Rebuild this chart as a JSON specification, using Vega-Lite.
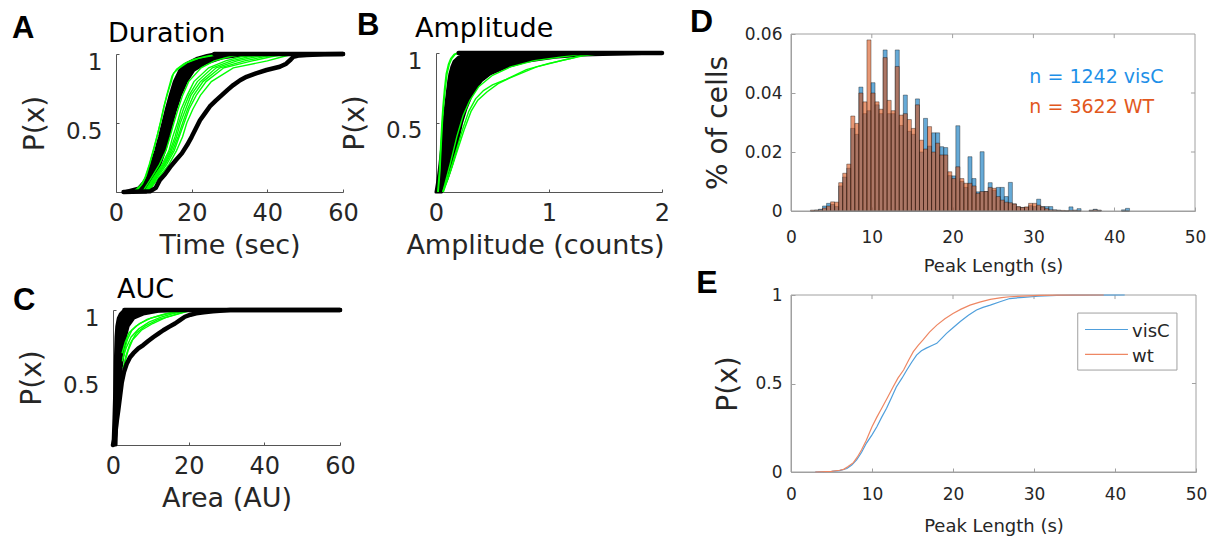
{
"$schema": "https://vega.github.io/schema/vega-lite/v6.json",
"width": 1217,
"height": 540,
"autosize": {"type": "none"},
"padding": 0,
"config": {
 "font": "DejaVu Sans",
 "view": {"stroke": null},
 "axis": {"grid": false, "labelColor": "#262626", "titleColor": "#262626", "domainColor": "#555555", "tickColor": "#555555", "titleFontWeight": "normal", "labelFlush": false}
},
"resolve": {"scale": {"x": "independent", "y": "independent"}, "axis": {"x": "independent", "y": "independent"}},
"datasets": {
 "A_band": [{"p":0,"xl":2,"xr":8},{"p":0.03,"xl":6,"xr":9},{"p":0.07,"xl":7.3,"xr":9.8},{"p":0.1,"xl":8,"xr":10.3},{"p":0.2,"xl":9.3,"xr":11.6},{"p":0.3,"xl":10.5,"xr":12.9},{"p":0.4,"xl":11.5,"xr":13.9},{"p":0.5,"xl":12.4,"xr":14.8},{"p":0.6,"xl":13.3,"xr":15.8},{"p":0.7,"xl":14.3,"xr":17},{"p":0.8,"xl":15.4,"xr":18.6},{"p":0.88,"xl":16.8,"xr":20.5},{"p":0.93,"xl":18.6,"xr":23.5},{"p":0.97,"xl":21.5,"xr":28},{"p":0.99,"xl":24,"xr":33},{"p":1,"xl":26,"xr":40}],
 "A_green": [
  {"s":"gL1","x":5,"p":0.01},{"s":"gL1","x":6.6,"p":0.05},{"s":"gL1","x":7.6,"p":0.1},{"s":"gL1","x":8.8,"p":0.2},{"s":"gL1","x":9.8,"p":0.3},{"s":"gL1","x":10.8,"p":0.4},{"s":"gL1","x":11.7,"p":0.5},{"s":"gL1","x":12.5,"p":0.6},{"s":"gL1","x":13.4,"p":0.7},{"s":"gL1","x":14.2,"p":0.78},{"s":"gL1","x":14.8,"p":0.84},{"s":"gL1","x":16,"p":0.89},{"s":"gL1","x":18,"p":0.93},{"s":"gL1","x":20.5,"p":0.96},{"s":"gL1","x":24,"p":0.985},{"s":"gL1","x":28,"p":1},
  {"s":"gL2","x":5.5,"p":0.01},{"s":"gL2","x":7,"p":0.06},{"s":"gL2","x":8,"p":0.12},{"s":"gL2","x":9.1,"p":0.22},{"s":"gL2","x":10.2,"p":0.33},{"s":"gL2","x":11.1,"p":0.43},{"s":"gL2","x":12,"p":0.53},{"s":"gL2","x":12.8,"p":0.63},{"s":"gL2","x":13.7,"p":0.72},{"s":"gL2","x":14.6,"p":0.8},{"s":"gL2","x":15.2,"p":0.86},{"s":"gL2","x":16.8,"p":0.9},{"s":"gL2","x":19,"p":0.94},{"s":"gL2","x":22,"p":0.97},{"s":"gL2","x":26,"p":0.99},{"s":"gL2","x":30,"p":1},
  {"s":"g1","x":7,"p":0},{"s":"g1","x":9.3,"p":0.1},{"s":"g1","x":11.5,"p":0.2},{"s":"g1","x":13.2,"p":0.3},{"s":"g1","x":14.3,"p":0.4},{"s":"g1","x":15.3,"p":0.5},{"s":"g1","x":16.4,"p":0.6},{"s":"g1","x":17.6,"p":0.7},{"s":"g1","x":19.2,"p":0.8},{"s":"g1","x":22.5,"p":0.9},{"s":"g1","x":26,"p":0.95},{"s":"g1","x":30,"p":0.98},{"s":"g1","x":34,"p":1},
  {"s":"g2","x":7.5,"p":0},{"s":"g2","x":9.8,"p":0.1},{"s":"g2","x":12.2,"p":0.2},{"s":"g2","x":14,"p":0.3},{"s":"g2","x":15,"p":0.4},{"s":"g2","x":16.2,"p":0.5},{"s":"g2","x":17.2,"p":0.6},{"s":"g2","x":18.8,"p":0.7},{"s":"g2","x":20.6,"p":0.8},{"s":"g2","x":24.5,"p":0.9},{"s":"g2","x":29,"p":0.95},{"s":"g2","x":33,"p":0.98},{"s":"g2","x":38,"p":1},
  {"s":"g3","x":8,"p":0},{"s":"g3","x":10.3,"p":0.1},{"s":"g3","x":12.8,"p":0.2},{"s":"g3","x":14.6,"p":0.3},{"s":"g3","x":16,"p":0.4},{"s":"g3","x":17,"p":0.5},{"s":"g3","x":18.4,"p":0.6},{"s":"g3","x":19.8,"p":0.7},{"s":"g3","x":22.3,"p":0.8},{"s":"g3","x":26.5,"p":0.9},{"s":"g3","x":32,"p":0.95},{"s":"g3","x":37,"p":0.98},{"s":"g3","x":42,"p":1},
  {"s":"g4","x":8.2,"p":0},{"s":"g4","x":10.8,"p":0.1},{"s":"g4","x":13.4,"p":0.2},{"s":"g4","x":15.4,"p":0.3},{"s":"g4","x":16.7,"p":0.4},{"s":"g4","x":18,"p":0.5},{"s":"g4","x":19.3,"p":0.6},{"s":"g4","x":21.2,"p":0.7},{"s":"g4","x":23.8,"p":0.8},{"s":"g4","x":28.5,"p":0.9},{"s":"g4","x":36,"p":0.95},{"s":"g4","x":41,"p":0.98},{"s":"g4","x":45,"p":1},
  {"s":"g5","x":8.5,"p":0},{"s":"g5","x":11.2,"p":0.1},{"s":"g5","x":14,"p":0.2},{"s":"g5","x":16,"p":0.3},{"s":"g5","x":17.6,"p":0.4},{"s":"g5","x":18.7,"p":0.5},{"s":"g5","x":20.3,"p":0.6},{"s":"g5","x":22.3,"p":0.7},{"s":"g5","x":25.2,"p":0.8},{"s":"g5","x":31,"p":0.9},{"s":"g5","x":40,"p":0.95},{"s":"g5","x":44,"p":0.98},{"s":"g5","x":47,"p":1},
  {"s":"g6","x":8.3,"p":0},{"s":"g6","x":10.5,"p":0.1},{"s":"g6","x":13,"p":0.2},{"s":"g6","x":15,"p":0.3},{"s":"g6","x":16.4,"p":0.4},{"s":"g6","x":17.6,"p":0.5},{"s":"g6","x":18.9,"p":0.6},{"s":"g6","x":20.5,"p":0.7},{"s":"g6","x":23,"p":0.8},{"s":"g6","x":27.5,"p":0.9},{"s":"g6","x":34,"p":0.95},{"s":"g6","x":39,"p":0.98},{"s":"g6","x":44,"p":1},
  {"s":"g7","x":7.8,"p":0},{"s":"g7","x":10,"p":0.1},{"s":"g7","x":12.5,"p":0.2},{"s":"g7","x":14.3,"p":0.3},{"s":"g7","x":15.6,"p":0.4},{"s":"g7","x":16.6,"p":0.5},{"s":"g7","x":17.8,"p":0.6},{"s":"g7","x":19.3,"p":0.7},{"s":"g7","x":21.5,"p":0.8},{"s":"g7","x":25.5,"p":0.9},{"s":"g7","x":30.5,"p":0.95},{"s":"g7","x":35,"p":0.98},{"s":"g7","x":40,"p":1}
 ],
 "A_black": [
  {"s":"outer","x":2,"p":0},{"s":"outer","x":9,"p":0.005},{"s":"outer","x":10.5,"p":0.03},{"s":"outer","x":11.6,"p":0.087},{"s":"outer","x":13,"p":0.13},{"s":"outer","x":14.3,"p":0.18},{"s":"outer","x":15.8,"p":0.23},{"s":"outer","x":17.4,"p":0.28},{"s":"outer","x":18.8,"p":0.34},{"s":"outer","x":20,"p":0.4},{"s":"outer","x":21.1,"p":0.46},{"s":"outer","x":22.2,"p":0.52},{"s":"outer","x":23.5,"p":0.57},{"s":"outer","x":24.8,"p":0.62},{"s":"outer","x":26.3,"p":0.66},{"s":"outer","x":27.9,"p":0.7},{"s":"outer","x":29.5,"p":0.74},{"s":"outer","x":31,"p":0.775},{"s":"outer","x":32.8,"p":0.81},{"s":"outer","x":34.5,"p":0.835},{"s":"outer","x":37,"p":0.86},{"s":"outer","x":39.8,"p":0.884},{"s":"outer","x":43.3,"p":0.908},{"s":"outer","x":45,"p":0.93},{"s":"outer","x":46.2,"p":0.96},{"s":"outer","x":46.9,"p":0.98},{"s":"outer","x":48.5,"p":0.99},{"s":"outer","x":50.4,"p":0.993},{"s":"outer","x":55,"p":0.998},{"s":"outer","x":60,"p":1},
  {"s":"top","x":26,"p":1},{"s":"top","x":60,"p":1}
 ],
 "B_band": [{"p":0,"xl":0,"xr":0.05},{"p":0.1,"xl":0.02,"xr":0.1},{"p":0.2,"xl":0.035,"xr":0.14},{"p":0.3,"xl":0.048,"xr":0.175},{"p":0.4,"xl":0.06,"xr":0.2},{"p":0.5,"xl":0.07,"xr":0.227},{"p":0.6,"xl":0.083,"xr":0.265},{"p":0.7,"xl":0.098,"xr":0.315},{"p":0.8,"xl":0.113,"xr":0.4},{"p":0.85,"xl":0.123,"xr":0.48},{"p":0.9,"xl":0.14,"xr":0.625},{"p":0.94,"xl":0.16,"xr":0.8},{"p":0.97,"xl":0.2,"xr":1.05},{"p":0.985,"xl":0.25,"xr":1.3},{"p":1,"xl":0.3,"xr":2}],
 "B_green": [
  {"s":"gBL1","x":0.015,"p":0},{"s":"gBL1","x":0.03,"p":0.15},{"s":"gBL1","x":0.042,"p":0.35},{"s":"gBL1","x":0.052,"p":0.5},{"s":"gBL1","x":0.062,"p":0.62},{"s":"gBL1","x":0.075,"p":0.74},{"s":"gBL1","x":0.09,"p":0.85},{"s":"gBL1","x":0.11,"p":0.92},{"s":"gBL1","x":0.13,"p":0.96},{"s":"gBL1","x":0.16,"p":0.99},{"s":"gBL1","x":0.19,"p":1},
  {"s":"gBL2","x":0.02,"p":0},{"s":"gBL2","x":0.035,"p":0.15},{"s":"gBL2","x":0.047,"p":0.35},{"s":"gBL2","x":0.057,"p":0.5},{"s":"gBL2","x":0.068,"p":0.62},{"s":"gBL2","x":0.082,"p":0.74},{"s":"gBL2","x":0.098,"p":0.85},{"s":"gBL2","x":0.118,"p":0.92},{"s":"gBL2","x":0.14,"p":0.96},{"s":"gBL2","x":0.17,"p":0.99},{"s":"gBL2","x":0.21,"p":1},
  {"s":"gBR1","x":0.06,"p":0},{"s":"gBR1","x":0.12,"p":0.14},{"s":"gBR1","x":0.18,"p":0.3},{"s":"gBR1","x":0.235,"p":0.45},{"s":"gBR1","x":0.29,"p":0.58},{"s":"gBR1","x":0.35,"p":0.67},{"s":"gBR1","x":0.42,"p":0.73},{"s":"gBR1","x":0.5,"p":0.77},{"s":"gBR1","x":0.62,"p":0.81},{"s":"gBR1","x":0.8,"p":0.88},{"s":"gBR1","x":1,"p":0.925},{"s":"gBR1","x":1.19,"p":0.96},{"s":"gBR1","x":1.3,"p":0.985},{"s":"gBR1","x":1.45,"p":1},
  {"s":"gBR2","x":0.065,"p":0},{"s":"gBR2","x":0.13,"p":0.15},{"s":"gBR2","x":0.19,"p":0.3},{"s":"gBR2","x":0.25,"p":0.45},{"s":"gBR2","x":0.31,"p":0.58},{"s":"gBR2","x":0.37,"p":0.66},{"s":"gBR2","x":0.45,"p":0.72},{"s":"gBR2","x":0.55,"p":0.78},{"s":"gBR2","x":0.65,"p":0.82},{"s":"gBR2","x":0.89,"p":0.9},{"s":"gBR2","x":1.13,"p":0.95},{"s":"gBR2","x":1.3,"p":0.98},{"s":"gBR2","x":1.5,"p":1},
  {"s":"gBR3","x":0.06,"p":0},{"s":"gBR3","x":0.125,"p":0.2},{"s":"gBR3","x":0.185,"p":0.4},{"s":"gBR3","x":0.24,"p":0.55},{"s":"gBR3","x":0.3,"p":0.66},{"s":"gBR3","x":0.38,"p":0.76},{"s":"gBR3","x":0.5,"p":0.84},{"s":"gBR3","x":0.66,"p":0.9},{"s":"gBR3","x":0.87,"p":0.945},{"s":"gBR3","x":1.1,"p":0.97},{"s":"gBR3","x":1.3,"p":0.99},{"s":"gBR3","x":1.4,"p":1}
 ],
 "B_black": [{"s":"top","x":0.2,"p":1},{"s":"top","x":2,"p":1}],
 "C_band": [{"p":0,"xl":0,"xr":0.8},{"p":0.2,"xl":0.25,"xr":1},{"p":0.4,"xl":0.45,"xr":1.6},{"p":0.6,"xl":0.6,"xr":2.3},{"p":0.7,"xl":0.7,"xr":2.8},{"p":0.8,"xl":0.8,"xr":3.3},{"p":0.88,"xl":1,"xr":4},{"p":0.94,"xl":1.4,"xr":5.5},{"p":0.97,"xl":1.9,"xr":8},{"p":0.99,"xl":2.6,"xr":12},{"p":1,"xl":3.5,"xr":20}],
 "C_green": [
  {"s":"c1","x":2.5,"p":0.62},{"s":"c1","x":3,"p":0.7},{"s":"c1","x":3.8,"p":0.78},{"s":"c1","x":5,"p":0.85},{"s":"c1","x":7,"p":0.9},{"s":"c1","x":10,"p":0.94},{"s":"c1","x":14,"p":0.97},{"s":"c1","x":18,"p":0.99},{"s":"c1","x":20,"p":1},
  {"s":"c2","x":2.7,"p":0.57},{"s":"c2","x":3.4,"p":0.66},{"s":"c2","x":4.5,"p":0.75},{"s":"c2","x":6.2,"p":0.83},{"s":"c2","x":8.5,"p":0.88},{"s":"c2","x":12,"p":0.93},{"s":"c2","x":16,"p":0.96},{"s":"c2","x":19,"p":0.985},{"s":"c2","x":21,"p":1},
  {"s":"c3","x":3,"p":0.6},{"s":"c3","x":4,"p":0.7},{"s":"c3","x":5.2,"p":0.78},{"s":"c3","x":7.5,"p":0.85},{"s":"c3","x":10.5,"p":0.9},{"s":"c3","x":14,"p":0.945},{"s":"c3","x":17.5,"p":0.975},{"s":"c3","x":19.5,"p":0.99},{"s":"c3","x":22,"p":1},
  {"s":"c4","x":2.4,"p":0.68},{"s":"c4","x":3.2,"p":0.76},{"s":"c4","x":4.2,"p":0.83},{"s":"c4","x":6,"p":0.88},{"s":"c4","x":9,"p":0.93},{"s":"c4","x":13,"p":0.965},{"s":"c4","x":16,"p":0.985},{"s":"c4","x":18,"p":1},
  {"s":"c5","x":2.6,"p":0.64},{"s":"c5","x":3.5,"p":0.72},{"s":"c5","x":4.8,"p":0.8},{"s":"c5","x":6.8,"p":0.86},{"s":"c5","x":9.5,"p":0.91},{"s":"c5","x":12.5,"p":0.945},{"s":"c5","x":15.5,"p":0.97},{"s":"c5","x":18.5,"p":0.99},{"s":"c5","x":20.5,"p":1}
 ],
 "C_black": [
  {"s":"outer","x":0,"p":0},{"s":"outer","x":0.5,"p":0.06},{"s":"outer","x":1,"p":0.18},{"s":"outer","x":1.4,"p":0.26},{"s":"outer","x":1.9,"p":0.37},{"s":"outer","x":2.3,"p":0.46},{"s":"outer","x":2.9,"p":0.54},{"s":"outer","x":3.6,"p":0.6},{"s":"outer","x":4.5,"p":0.65},{"s":"outer","x":5.4,"p":0.68},{"s":"outer","x":6.7,"p":0.715},{"s":"outer","x":8,"p":0.74},{"s":"outer","x":9.3,"p":0.77},{"s":"outer","x":10.7,"p":0.8},{"s":"outer","x":12,"p":0.825},{"s":"outer","x":13.3,"p":0.85},{"s":"outer","x":14.8,"p":0.875},{"s":"outer","x":16.4,"p":0.9},{"s":"outer","x":17.7,"p":0.925},{"s":"outer","x":19,"p":0.95},{"s":"outer","x":20.5,"p":0.965},{"s":"outer","x":22,"p":0.975},{"s":"outer","x":24,"p":0.983},{"s":"outer","x":26.4,"p":0.99},{"s":"outer","x":31,"p":1},{"s":"outer","x":60,"p":1},
  {"s":"top","x":3,"p":1},{"s":"top","x":60,"p":1}
 ],
 "D_hist": [
  {"b0":2.4,"b1":2.9,"visC":0,"wt":0.0003},{"b0":2.9,"b1":3.4,"visC":0.0003,"wt":0.0003},{"b0":3.4,"b1":3.9,"visC":0.0006,"wt":0.0004},{"b0":3.9,"b1":4.4,"visC":0.0017,"wt":0.001},{"b0":4.4,"b1":4.9,"visC":0.0026,"wt":0.0017},{"b0":4.9,"b1":5.4,"visC":0.0022,"wt":0.0031},{"b0":5.4,"b1":5.9,"visC":0.0015,"wt":0.003},{"b0":5.9,"b1":6.4,"visC":0.0085,"wt":0.0096},{"b0":6.4,"b1":6.9,"visC":0.0115,"wt":0.0128},{"b0":6.9,"b1":7.4,"visC":0.0145,"wt":0.0159},
  {"b0":7.4,"b1":7.9,"visC":0.028,"wt":0.0322},{"b0":7.9,"b1":8.4,"visC":0.026,"wt":0.0297},{"b0":8.4,"b1":8.9,"visC":0.042,"wt":0.04},{"b0":8.9,"b1":9.4,"visC":0.033,"wt":0.037},{"b0":9.4,"b1":9.9,"visC":0.034,"wt":0.058},{"b0":9.9,"b1":10.4,"visC":0.0435,"wt":0.04},{"b0":10.4,"b1":10.9,"visC":0.036,"wt":0.037},{"b0":10.9,"b1":11.4,"visC":0.033,"wt":0.0345},{"b0":11.4,"b1":11.9,"visC":0.0546,"wt":0.052},{"b0":11.9,"b1":12.4,"visC":0.033,"wt":0.0375},
  {"b0":12.4,"b1":12.9,"visC":0.033,"wt":0.034},{"b0":12.9,"b1":13.4,"visC":0.0546,"wt":0.049},{"b0":13.4,"b1":13.9,"visC":0.029,"wt":0.0325},{"b0":13.9,"b1":14.4,"visC":0.0393,"wt":0.033},{"b0":14.4,"b1":14.9,"visC":0.027,"wt":0.031},{"b0":14.9,"b1":15.4,"visC":0.026,"wt":0.028},{"b0":15.4,"b1":15.9,"visC":0.038,"wt":0.036},{"b0":15.9,"b1":16.4,"visC":0.02,"wt":0.024},{"b0":16.4,"b1":16.9,"visC":0.0314,"wt":0.021},{"b0":16.9,"b1":17.4,"visC":0.022,"wt":0.0286},
  {"b0":17.4,"b1":17.9,"visC":0.0265,"wt":0.02},{"b0":17.9,"b1":18.4,"visC":0.0265,"wt":0.023},{"b0":18.4,"b1":18.9,"visC":0.0218,"wt":0.019},{"b0":18.9,"b1":19.4,"visC":0.0215,"wt":0.019},{"b0":19.4,"b1":19.9,"visC":0.012,"wt":0.0133},{"b0":19.9,"b1":20.4,"visC":0.0119,"wt":0.011},{"b0":20.4,"b1":20.9,"visC":0.0289,"wt":0.015},{"b0":20.9,"b1":21.4,"visC":0.01,"wt":0.011},{"b0":21.4,"b1":21.9,"visC":0.008,"wt":0.0094},{"b0":21.9,"b1":22.4,"visC":0.0184,"wt":0.0094},
  {"b0":22.4,"b1":22.9,"visC":0.011,"wt":0.0085},{"b0":22.9,"b1":23.4,"visC":0.0065,"wt":0.006},{"b0":23.4,"b1":23.9,"visC":0.0201,"wt":0.0066},{"b0":23.9,"b1":24.4,"visC":0.0066,"wt":0.0066},{"b0":24.4,"b1":24.9,"visC":0.0096,"wt":0.008},{"b0":24.9,"b1":25.4,"visC":0.007,"wt":0.0077},{"b0":25.4,"b1":25.9,"visC":0.008,"wt":0.0049},{"b0":25.9,"b1":26.4,"visC":0.008,"wt":0.0037},{"b0":26.4,"b1":26.9,"visC":0.0049,"wt":0.003},{"b0":26.9,"b1":27.4,"visC":0.0097,"wt":0.0028},
  {"b0":27.4,"b1":27.9,"visC":0.0024,"wt":0.0024},{"b0":27.9,"b1":28.4,"visC":0.0014,"wt":0.0015},{"b0":28.4,"b1":28.9,"visC":0.0012,"wt":0.0012},{"b0":28.9,"b1":29.4,"visC":0.0012,"wt":0.0014},{"b0":29.4,"b1":29.9,"visC":0.0018,"wt":0.0026},{"b0":29.9,"b1":30.4,"visC":0.0015,"wt":0.0026},{"b0":30.4,"b1":30.9,"visC":0.004,"wt":0.002},{"b0":30.9,"b1":31.4,"visC":0.0015,"wt":0.0014},{"b0":31.4,"b1":31.9,"visC":0.0015,"wt":0.0008},{"b0":31.9,"b1":32.4,"visC":0.0015,"wt":0.0004},
  {"b0":32.4,"b1":32.9,"visC":0.0004,"wt":0.0003},{"b0":32.9,"b1":33.4,"visC":0.0003,"wt":0.0002},{"b0":33.4,"b1":33.9,"visC":0,"wt":0.0002},{"b0":33.9,"b1":34.4,"visC":0,"wt":0.0001},{"b0":34.4,"b1":34.9,"visC":0.0014,"wt":0.0002},{"b0":34.9,"b1":35.4,"visC":0.0003,"wt":0.0002},{"b0":35.4,"b1":35.9,"visC":0.0008,"wt":0.0001},{"b0":36.9,"b1":37.4,"visC":0.0003,"wt":0.0002},{"b0":37.4,"b1":37.9,"visC":0.0006,"wt":0.0004},{"b0":37.9,"b1":38.4,"visC":0.0003,"wt":0.0002},
  {"b0":40.9,"b1":41.4,"visC":0.0004,"wt":0},{"b0":41.4,"b1":41.9,"visC":0.0009,"wt":0}
 ],
 "E_cdf": [
  {"g":"visC","x":3,"p":0},{"g":"visC","x":5,"p":0.003},{"g":"visC","x":6,"p":0.008},{"g":"visC","x":6.9,"p":0.02},{"g":"visC","x":7.5,"p":0.04},{"g":"visC","x":8.1,"p":0.068},{"g":"visC","x":8.7,"p":0.11},{"g":"visC","x":9.3,"p":0.162},{"g":"visC","x":10,"p":0.21},{"g":"visC","x":10.6,"p":0.256},{"g":"visC","x":11.2,"p":0.31},{"g":"visC","x":11.8,"p":0.36},{"g":"visC","x":12.4,"p":0.42},{"g":"visC","x":13,"p":0.48},{"g":"visC","x":13.7,"p":0.53},{"g":"visC","x":14.3,"p":0.576},{"g":"visC","x":14.9,"p":0.62},{"g":"visC","x":15.5,"p":0.66},{"g":"visC","x":16.1,"p":0.685},{"g":"visC","x":16.7,"p":0.7},{"g":"visC","x":17.4,"p":0.715},{"g":"visC","x":18,"p":0.727},{"g":"visC","x":18.6,"p":0.755},{"g":"visC","x":19.2,"p":0.783},{"g":"visC","x":20,"p":0.815},{"g":"visC","x":20.9,"p":0.85},{"g":"visC","x":21.9,"p":0.885},{"g":"visC","x":22.9,"p":0.915},{"g":"visC","x":23.7,"p":0.93},{"g":"visC","x":24.6,"p":0.943},{"g":"visC","x":25.8,"p":0.962},{"g":"visC","x":27,"p":0.98},{"g":"visC","x":28.7,"p":0.987},{"g":"visC","x":30.5,"p":0.993},{"g":"visC","x":32.8,"p":0.998},{"g":"visC","x":35,"p":0.999},{"g":"visC","x":41.2,"p":1},
  {"g":"wt","x":3,"p":0},{"g":"wt","x":5,"p":0.004},{"g":"wt","x":6,"p":0.01},{"g":"wt","x":6.5,"p":0.015},{"g":"wt","x":7,"p":0.03},{"g":"wt","x":7.7,"p":0.053},{"g":"wt","x":8.2,"p":0.085},{"g":"wt","x":8.7,"p":0.124},{"g":"wt","x":9.3,"p":0.18},{"g":"wt","x":10,"p":0.256},{"g":"wt","x":10.6,"p":0.31},{"g":"wt","x":11.2,"p":0.36},{"g":"wt","x":11.9,"p":0.42},{"g":"wt","x":12.6,"p":0.48},{"g":"wt","x":13.2,"p":0.53},{"g":"wt","x":13.9,"p":0.576},{"g":"wt","x":14.5,"p":0.63},{"g":"wt","x":15.1,"p":0.68},{"g":"wt","x":15.7,"p":0.715},{"g":"wt","x":16.3,"p":0.746},{"g":"wt","x":17.1,"p":0.79},{"g":"wt","x":18,"p":0.83},{"g":"wt","x":19,"p":0.866},{"g":"wt","x":20,"p":0.896},{"g":"wt","x":21,"p":0.92},{"g":"wt","x":22.1,"p":0.943},{"g":"wt","x":23.3,"p":0.96},{"g":"wt","x":24.6,"p":0.975},{"g":"wt","x":26,"p":0.985},{"g":"wt","x":27,"p":0.99},{"g":"wt","x":28.5,"p":0.994},{"g":"wt","x":30.7,"p":0.998},{"g":"wt","x":33,"p":0.999},{"g":"wt","x":38.6,"p":1}
 ],
 "DE_xticks": [{"t":10},{"t":20},{"t":30},{"t":40}],
 "D_yticks": [{"t":0.02},{"t":0.04}],
 "E_yticks": [{"t":0.5}],
 "E_leg": [{"g":"visC","ly":0.805,"ty":0.79},{"g":"wt","ly":0.665,"ty":0.65}]
},
"layer": [
 {"layer": [
   {"data": {"name": "A_band"}, "mark": {"type": "area", "orient": "horizontal", "color": "black", "stroke": "black", "strokeWidth": 3, "strokeJoin": "round"},
    "encoding": {
     "y": {"field": "p", "type": "quantitative", "scale": {"domain": [0, 1], "range": [192, 54], "nice": false, "zero": false}, "axis": {"orient": "left", "offset": -116, "title": "P(x)", "values": [0.5, 1], "format": "~g", "labelFontSize": 23, "titleFontSize": 28, "tickSize": -3, "labelPadding": 17, "labelOffset": 8, "titlePadding": 16}},
     "x": {"field": "xl", "type": "quantitative", "scale": {"domain": [0, 60], "range": [116, 343], "nice": false, "zero": false}, "axis": {"orient": "bottom", "offset": -348, "title": "Time (sec)", "values": [0, 20, 40, 60], "labelFontSize": 24, "titleFontSize": 27, "tickSize": -3, "labelPadding": 12, "titlePadding": 7}},
     "x2": {"field": "xr"}}},
   {"data": {"name": "A_green"}, "mark": {"type": "line", "color": "#00ff00", "strokeWidth": 1.4},
    "encoding": {"x": {"field": "x", "type": "quantitative"}, "y": {"field": "p", "type": "quantitative"}, "detail": {"field": "s"}}},
   {"data": {"name": "A_black"}, "mark": {"type": "line", "color": "black", "strokeWidth": 4.5, "strokeJoin": "round", "strokeCap": "round"},
    "encoding": {"x": {"field": "x", "type": "quantitative"}, "y": {"field": "p", "type": "quantitative"}, "detail": {"field": "s"}}},
   {"data": {"values": [{}]}, "mark": {"type": "text", "font": "Liberation Sans", "fontWeight": "bold", "fontSize": 31, "align": "left", "baseline": "alphabetic", "color": "black"},
    "encoding": {"x": {"datum": -27.5}, "y": {"datum": 1.116}, "text": {"value": "A"}}},
   {"data": {"values": [{}]}, "mark": {"type": "text", "fontSize": 27, "align": "left", "baseline": "alphabetic", "color": "black"},
    "encoding": {"x": {"datum": -2.1}, "y": {"datum": 1.087}, "text": {"value": "Duration"}}}
 ]},
 {"layer": [
   {"data": {"name": "B_band"}, "mark": {"type": "area", "orient": "horizontal", "color": "black", "stroke": "black", "strokeWidth": 3, "strokeJoin": "round"},
    "encoding": {
     "y": {"field": "p", "type": "quantitative", "scale": {"domain": [0, 1], "range": [192, 53], "nice": false, "zero": false}, "axis": {"orient": "left", "offset": -436, "title": "P(x)", "values": [0.5, 1], "format": "~g", "labelFontSize": 23, "titleFontSize": 28, "tickSize": -3, "labelPadding": 17, "labelOffset": 8, "titlePadding": 16}},
     "x": {"field": "xl", "type": "quantitative", "scale": {"domain": [0, 2], "range": [436, 662], "nice": false, "zero": false}, "axis": {"orient": "bottom", "offset": -348, "title": "Amplitude (counts)", "values": [0, 1, 2], "format": "~g", "labelFontSize": 24, "titleFontSize": 27, "tickSize": -3, "labelPadding": 12, "titlePadding": 7, "titleX": 535}},
     "x2": {"field": "xr"}}},
   {"data": {"name": "B_green"}, "mark": {"type": "line", "color": "#00ff00", "strokeWidth": 1.4},
    "encoding": {"x": {"field": "x", "type": "quantitative"}, "y": {"field": "p", "type": "quantitative"}, "detail": {"field": "s"}}},
   {"data": {"name": "B_black"}, "mark": {"type": "line", "color": "black", "strokeWidth": 4.5, "strokeCap": "round"},
    "encoding": {"x": {"field": "x", "type": "quantitative"}, "y": {"field": "p", "type": "quantitative"}, "detail": {"field": "s"}}},
   {"data": {"values": [{}]}, "mark": {"type": "text", "font": "Liberation Sans", "fontWeight": "bold", "fontSize": 31, "align": "left", "baseline": "alphabetic", "color": "black"},
    "encoding": {"x": {"datum": -0.699}, "y": {"datum": 1.129}, "text": {"value": "B"}}},
   {"data": {"values": [{}]}, "mark": {"type": "text", "fontSize": 27, "align": "left", "baseline": "alphabetic", "color": "black"},
    "encoding": {"x": {"datum": -0.186}, "y": {"datum": 1.115}, "text": {"value": "Amplitude"}}}
 ]},
 {"layer": [
   {"data": {"name": "C_band"}, "mark": {"type": "area", "orient": "horizontal", "color": "black", "stroke": "black", "strokeWidth": 3, "strokeJoin": "round"},
    "encoding": {
     "y": {"field": "p", "type": "quantitative", "scale": {"domain": [0, 1], "range": [445, 310], "nice": false, "zero": false}, "axis": {"orient": "left", "offset": -113, "title": "P(x)", "values": [0.5, 1], "format": "~g", "labelFontSize": 23, "titleFontSize": 28, "tickSize": -3, "labelPadding": 17, "labelOffset": 8, "titlePadding": 16}},
     "x": {"field": "xl", "type": "quantitative", "scale": {"domain": [0, 60], "range": [113, 340], "nice": false, "zero": false}, "axis": {"orient": "bottom", "offset": -95, "title": "Area (AU)", "values": [0, 20, 40, 60], "labelFontSize": 24, "titleFontSize": 27, "tickSize": -3, "labelPadding": 12, "titlePadding": 7}},
     "x2": {"field": "xr"}}},
   {"data": {"name": "C_green"}, "mark": {"type": "line", "color": "#00ff00", "strokeWidth": 1.4},
    "encoding": {"x": {"field": "x", "type": "quantitative"}, "y": {"field": "p", "type": "quantitative"}, "detail": {"field": "s"}}},
   {"data": {"name": "C_black"}, "mark": {"type": "line", "color": "black", "strokeWidth": 4.5, "strokeJoin": "round", "strokeCap": "round"},
    "encoding": {"x": {"field": "x", "type": "quantitative"}, "y": {"field": "p", "type": "quantitative"}, "detail": {"field": "s"}}},
   {"data": {"values": [{}]}, "mark": {"type": "text", "font": "Liberation Sans", "fontWeight": "bold", "fontSize": 31, "align": "left", "baseline": "alphabetic", "color": "black"},
    "encoding": {"x": {"datum": -26.4}, "y": {"datum": 1.0}, "text": {"value": "C"}}},
   {"data": {"values": [{}]}, "mark": {"type": "text", "fontSize": 27, "align": "left", "baseline": "alphabetic", "color": "black"},
    "encoding": {"x": {"datum": 1.06}, "y": {"datum": 1.089}, "text": {"value": "AUC"}}}
 ]},
 {"layer": [
   {"data": {"name": "D_hist"}, "mark": {"type": "rect", "fill": "#0072BD", "fillOpacity": 0.6, "stroke": "#000000", "strokeWidth": 0.6, "strokeOpacity": 0.6},
    "encoding": {
     "x": {"field": "b0", "type": "quantitative", "scale": {"domain": [0, 50], "range": [791, 1195], "nice": false, "zero": false}, "axis": {"orient": "bottom", "offset": -329, "title": "Peak Length (s)", "values": [0, 10, 20, 30, 40, 50], "labelFontSize": 17, "titleFontSize": 18, "tickSize": -4, "labelPadding": 22, "titlePadding": 12, "domainColor": "#a0a0a0", "tickColor": "#a0a0a0"}},
     "x2": {"field": "b1"},
     "y": {"field": "visC", "type": "quantitative", "scale": {"domain": [0, 0.06], "range": [211, 34], "nice": false, "zero": false}, "axis": {"orient": "left", "offset": -791, "title": "% of cells", "values": [0, 0.02, 0.04, 0.06], "format": "~g", "labelFontSize": 17, "titleFontSize": 28, "tickSize": -4, "labelPadding": 13, "titlePadding": 12, "domainColor": "#a0a0a0", "tickColor": "#a0a0a0"}},
     "y2": {"datum": 0}}},
   {"data": {"name": "D_hist"}, "mark": {"type": "rect", "fill": "#D95319", "fillOpacity": 0.6, "stroke": "#000000", "strokeWidth": 0.6, "strokeOpacity": 0.6},
    "encoding": {"x": {"field": "b0", "type": "quantitative"}, "x2": {"field": "b1"}, "y": {"field": "wt", "type": "quantitative"}, "y2": {"datum": 0}}},
   {"data": {"values": [{}]}, "mark": {"type": "rect", "fillOpacity": 0, "stroke": "#a0a0a0", "strokeWidth": 1},
    "encoding": {"x": {"datum": 0}, "x2": {"datum": 50}, "y": {"datum": 0}, "y2": {"datum": 0.06}}},
   {"data": {"name": "DE_xticks"}, "mark": {"type": "rule", "color": "#a0a0a0"},
    "encoding": {"x": {"field": "t", "type": "quantitative"}, "y": {"datum": 0.06}, "y2": {"datum": 0.0586}}},
   {"data": {"name": "D_yticks"}, "mark": {"type": "rule", "color": "#a0a0a0"},
    "encoding": {"y": {"field": "t", "type": "quantitative"}, "x": {"datum": 50}, "x2": {"datum": 49.5}}},
   {"data": {"values": [{}]}, "mark": {"type": "text", "fontSize": 19, "align": "left", "baseline": "alphabetic", "color": "#1E90E8"},
    "encoding": {"x": {"datum": 29.5}, "y": {"datum": 0.0434}, "text": {"value": "n = 1242 visC"}}},
   {"data": {"values": [{}]}, "mark": {"type": "text", "fontSize": 19, "align": "left", "baseline": "alphabetic", "color": "#E2581D"},
    "encoding": {"x": {"datum": 29.5}, "y": {"datum": 0.0332}, "text": {"value": "n = 3622 WT"}}},
   {"data": {"values": [{}]}, "mark": {"type": "text", "font": "Liberation Sans", "fontWeight": "bold", "fontSize": 32, "align": "left", "baseline": "alphabetic", "color": "black"},
    "encoding": {"x": {"datum": -12.5}, "y": {"datum": 0.0607}, "text": {"value": "D"}}}
 ]},
 {"layer": [
   {"data": {"values": [{}]}, "mark": {"type": "rect", "fillOpacity": 0, "stroke": "#a0a0a0", "strokeWidth": 1},
    "encoding": {
     "x": {"datum": 0, "type": "quantitative", "scale": {"domain": [0, 50], "range": [791, 1196], "nice": false, "zero": false}, "axis": {"orient": "bottom", "offset": -68, "title": "Peak Length (s)", "values": [0, 10, 20, 30, 40, 50], "labelFontSize": 17, "titleFontSize": 18, "tickSize": -4, "labelPadding": 18, "titlePadding": 15, "domainColor": "#a0a0a0", "tickColor": "#a0a0a0"}},
     "x2": {"datum": 50},
     "y": {"datum": 0, "type": "quantitative", "scale": {"domain": [0, 1], "range": [472, 295], "nice": false, "zero": false}, "axis": {"orient": "left", "offset": -791, "title": "P(x)", "values": [0, 0.5, 1], "format": "~g", "labelFontSize": 17, "titleFontSize": 28, "tickSize": -4, "labelPadding": 13, "titlePadding": 12, "domainColor": "#a0a0a0", "tickColor": "#a0a0a0"}},
     "y2": {"datum": 1}}},
   {"data": {"name": "DE_xticks"}, "mark": {"type": "rule", "color": "#a0a0a0"},
    "encoding": {"x": {"field": "t", "type": "quantitative"}, "y": {"datum": 1}, "y2": {"datum": 0.977}}},
   {"data": {"name": "E_yticks"}, "mark": {"type": "rule", "color": "#a0a0a0"},
    "encoding": {"y": {"field": "t", "type": "quantitative"}, "x": {"datum": 50}, "x2": {"datum": 49.5}}},
   {"data": {"name": "E_cdf"}, "mark": {"type": "line", "strokeWidth": 1.2},
    "encoding": {
     "x": {"field": "x", "type": "quantitative"},
     "y": {"field": "p", "type": "quantitative"},
     "color": {"field": "g", "type": "nominal", "scale": {"domain": ["visC", "wt"], "range": ["#4F9FDC", "#EE8763"]}, "legend": null}}},
   {"data": {"values": [{}]}, "mark": {"type": "rect", "fill": "white", "stroke": "#a0a0a0", "strokeWidth": 1},
    "encoding": {"x": {"datum": 35.4}, "x2": {"datum": 47.65}, "y": {"datum": 0.576}, "y2": {"datum": 0.898}}},
   {"data": {"name": "E_leg"}, "mark": {"type": "rule", "strokeWidth": 1.2},
    "encoding": {"x": {"datum": 36.3}, "x2": {"datum": 41.6}, "y": {"field": "ly", "type": "quantitative"},
     "color": {"field": "g", "type": "nominal", "legend": null}}},
   {"data": {"name": "E_leg"}, "mark": {"type": "text", "fontSize": 18, "align": "left", "baseline": "middle", "color": "#262626"},
    "encoding": {"x": {"datum": 42.1}, "y": {"field": "ty", "type": "quantitative"}, "text": {"field": "g"}}},
   {"data": {"values": [{}]}, "mark": {"type": "text", "font": "Liberation Sans", "fontWeight": "bold", "fontSize": 32, "align": "left", "baseline": "alphabetic", "color": "black"},
    "encoding": {"x": {"datum": -11.7}, "y": {"datum": 1.011}, "text": {"value": "E"}}}
 ]}
]
}
